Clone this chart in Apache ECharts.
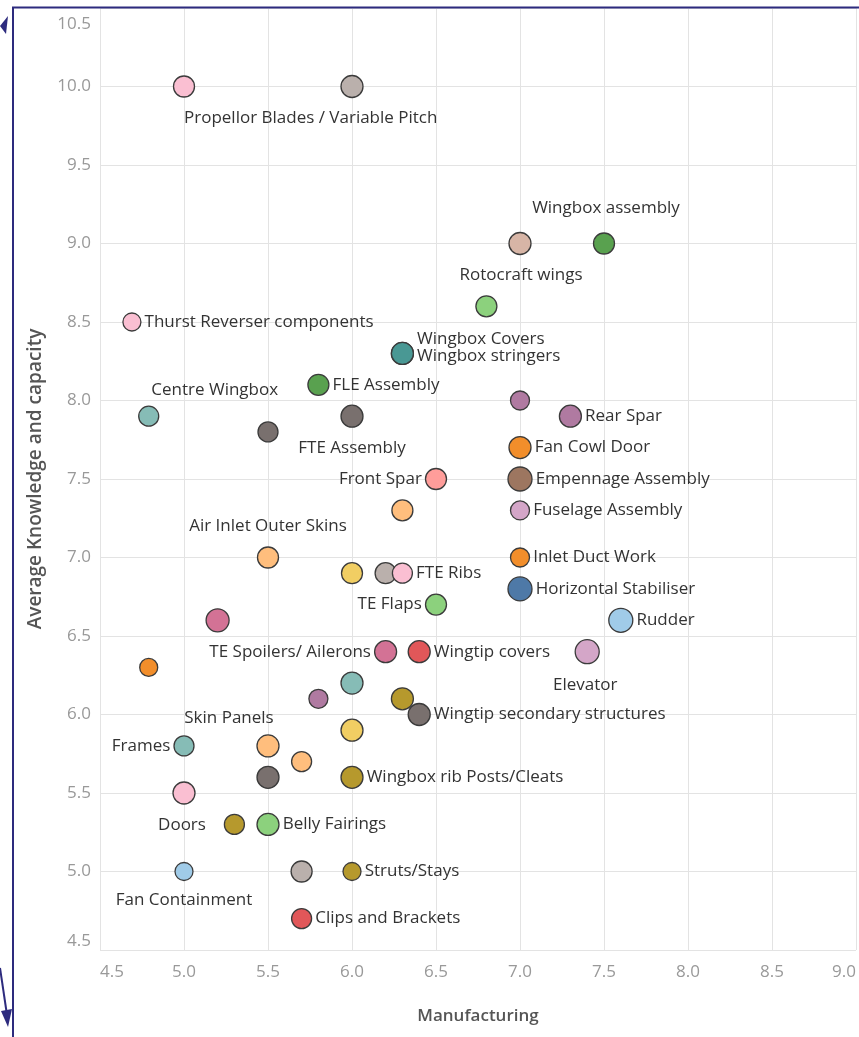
<!DOCTYPE html>
<html>
<head>
<meta charset="utf-8">
<script src="https://cdn.jsdelivr.net/npm/echarts@6/dist/echarts.min.js"></script>
<style>
  html, body { margin: 0; padding: 0; background: #fff; }
  #chart { width: 859px; height: 1037px; }
</style>
</head>
<body>
<div id="chart"></div>
<script>
// data: one entry per part (label '' = unlabeled point)
const partNames = [
  'Propellor Blades / Variable Pitch', '', 'Wingbox assembly', 'Rotocraft wings', '',
  'Thurst Reverser components', 'Wingbox Covers', 'Wingbox stringers', 'FLE Assembly', 'Centre Wingbox',
  '', 'FTE Assembly', '', 'Rear Spar', 'Fan Cowl Door',
  'Empennage Assembly', 'Fuselage Assembly', 'Front Spar', '', 'Air Inlet Outer Skins',
  '', '', 'FTE Ribs', 'TE Flaps', 'Inlet Duct Work',
  'Horizontal Stabiliser', 'Rudder', 'Elevator', '', 'TE Spoilers/ Ailerons',
  'Wingtip covers', '', '', '', '',
  'Wingtip secondary structures', '', 'Skin Panels', '', 'Frames',
  '', 'Wingbox rib Posts/Cleats', 'Doors', '', 'Belly Fairings',
  'Fan Containment', '', 'Struts/Stays', 'Clips and Brackets'
]
const manufacturing = [
  5.0, 6.0, 7.5, 7.0, 6.8,
  4.69, 6.3, 6.3, 5.8, 4.79,
  5.5, 6.0, 7.0, 7.3, 7.0,
  7.0, 7.0, 6.5, 6.3, 5.5,
  6.0, 6.2, 6.3, 6.5, 7.0,
  7.0, 7.6, 7.4, 5.2, 6.2,
  6.4, 4.79, 6.0, 5.8, 6.3,
  6.4, 6.0, 5.5, 5.7, 5.0,
  5.5, 6.0, 5.0, 5.3, 5.5,
  5.0, 5.7, 6.0, 5.7
]
const knowledge = [
  10.0, 10.0, 9.0, 9.0, 8.6,
  8.5, 8.3, 8.3, 8.1, 7.9,
  7.8, 7.9, 8.0, 7.9, 7.7,
  7.5, 7.3, 7.5, 7.3, 7.0,
  6.9, 6.9, 6.9, 6.7, 7.0,
  6.8, 6.6, 6.4, 6.6, 6.4,
  6.4, 6.3, 6.2, 6.1, 6.1,
  6.0, 5.9, 5.8, 5.7, 5.8,
  5.6, 5.6, 5.5, 5.3, 5.3,
  5.0, 5.0, 5.0, 4.7
]
const sizeValue = [
  21, 22, 21, 22, 21,
  18, 22, 22, 21, 20,
  20, 22, 19, 22, 22,
  24, 19, 21, 21, 21,
  21, 21, 20, 21, 19,
  24, 24, 24, 23, 22,
  22, 18, 22, 19, 22,
  22, 22, 22, 20, 20,
  22, 22, 22, 20, 22,
  18, 21, 18, 20
]
const xTicks = ['4.5', '5.0', '5.5', '6.0', '6.5', '7.0', '7.5', '8.0', '8.5', '9.0']

// styles
const pointColors = [
  '#FABFD2', '#BAB0AC', '#59A14F', '#D7B5A6', '#8CD17D',
  '#FABFD2', '#499894', '#499894', '#59A14F', '#86BCB6',
  '#79706E', '#79706E', '#B07AA1', '#B07AA1', '#F28E2B',
  '#9D7660', '#D4A6C8', '#FF9D9A', '#FFBE7D', '#FFBE7D',
  '#F1CE63', '#BAB0AC', '#FABFD2', '#8CD17D', '#F28E2B',
  '#4E79A7', '#A0CBE8', '#D4A6C8', '#D37295', '#D37295',
  '#E15759', '#F28E2B', '#86BCB6', '#B07AA1', '#B6992D',
  '#79706E', '#F1CE63', '#FFBE7D', '#FFBE7D', '#86BCB6',
  '#79706E', '#B6992D', '#FABFD2', '#B6992D', '#8CD17D',
  '#A0CBE8', '#BAB0AC', '#B6992D', '#E15759'
]
// label placement: 'left' / 'right' or a shift from the point centre
const labelPlace = {
  'Propellor Blades / Variable Pitch': { dx: 0, dy: 32, align: 'left' },
  'Wingbox assembly': { dx: 2, dy: -35 },
  'Rotocraft wings': { dx: 1, dy: 32 },
  'Wingbox Covers': { side: 'right', dy: -14 },
  'Wingbox stringers': { side: 'right', dy: 3 },
  'Centre Wingbox': { dx: 66, dy: -26 },
  'FTE Assembly': { dx: 0, dy: 32 },
  'Front Spar': { side: 'left' },
  'Air Inlet Outer Skins': { dx: 0, dy: -31 },
  'TE Flaps': { side: 'left' },
  'Elevator': { dx: -2, dy: 33 },
  'TE Spoilers/ Ailerons': { side: 'left' },
  'Skin Panels': { dx: -39, dy: -28 },
  'Frames': { side: 'left' },
  'Doors': { dx: -2, dy: 32 },
  'Fan Containment': { dx: 0, dy: 29 }
}

const labelFont = { fontFamily: 'Open Sans', fontSize: 17, color: '#333' }
const tickFont = { fontFamily: 'Open Sans', fontSize: 17, color: '#999' }

function buildLabel(name) {
  if (!name) return { show: false }
  const p = labelPlace[name] || { side: 'right' }
  if (p.side) {
    return Object.assign({ show: true, position: p.side, distance: 3, formatter: name }, labelFont)
  }
  return Object.assign({ show: true, position: 'inside', align: p.align || 'center', formatter: name }, labelFont)
}

const points = partNames.map((name, i) => ({
  name: name,
  value: [manufacturing[i], knowledge[i]],
  symbolSize: sizeValue[i],
  itemStyle: { color: pointColors[i] },
  label: buildLabel(name)
}))

const navy = '#2d2b7e'

const chart = echarts.init(document.getElementById('chart'))
chart.setOption({
  animation: false,
  grid: { left: 100, right: 3, top: 8, bottom: 87 },
  xAxis: {
    type: 'value',
    min: 4.5,
    max: 9.0,
    interval: 0.5,
    name: 'Manufacturing',
    nameLocation: 'middle',
    nameGap: 58,
    nameTextStyle: { fontFamily: 'Open Sans', fontSize: 17, fontWeight: 600, color: '#555' },
    axisLine: { show: false },
    axisTick: { show: false },
    splitLine: { lineStyle: { color: '#e3e3e3', width: 1 } },
    axisLabel: Object.assign({
      margin: 14,
      alignMinLabel: 'left', alignMaxLabel: 'right',
      formatter: v => xTicks[Math.round((v - 4.5) / 0.5)] || v.toFixed(1)
    }, tickFont)
  },
  yAxis: {
    type: 'value',
    min: 4.5,
    max: 10.5,
    interval: 0.5,
    name: 'Average Knowledge and capacity',
    nameLocation: 'middle',
    nameGap: 55,
    nameTextStyle: { fontFamily: 'Open Sans', fontSize: 19, fontWeight: 600, color: '#555' },
    axisLine: { show: false },
    axisTick: { show: false },
    splitLine: { lineStyle: { color: '#e3e3e3', width: 1 } },
    axisLabel: Object.assign({
      margin: 9,
      verticalAlignMinLabel: 'bottom', verticalAlignMaxLabel: 'top',
      formatter: v => v === 10.5 ? '{top|' + v.toFixed(1) + '}' : v.toFixed(1),
      rich: { top: Object.assign({ padding: [8, 0, 0, 0] }, tickFont) }
    }, tickFont)
  },
  series: [{
    type: 'scatter',
    data: points,
    itemStyle: { borderColor: '#3b3b3b', borderWidth: 1.3, opacity: 1 },
    labelLayout: function (params) {
      const p = labelPlace[partNames[params.dataIndex]]
      if (!p) return {}
      return { dx: p.dx || 0, dy: p.dy || 0 }
    }
  }],
  graphic: [
    { type: 'line', shape: { x1: 13, y1: 7, x2: 13, y2: 1037 }, style: { stroke: navy, lineWidth: 2 }, z: 100 },
    { type: 'line', shape: { x1: 12, y1: 7.5, x2: 859, y2: 7.5 }, style: { stroke: navy, lineWidth: 2 }, z: 100 },
    { type: 'polygon', shape: { points: [[8, 16], [0, 26], [6, 34]] }, style: { fill: navy }, z: 100 },
    { type: 'line', shape: { x1: 0, y1: 968, x2: 7, y2: 1015 }, style: { stroke: navy, lineWidth: 2 }, z: 100 },
    { type: 'polygon', shape: { points: [[1, 1011], [12, 1009], [8, 1027]] }, style: { fill: navy }, z: 100 }
  ]
})
</script>
</body>
</html>
